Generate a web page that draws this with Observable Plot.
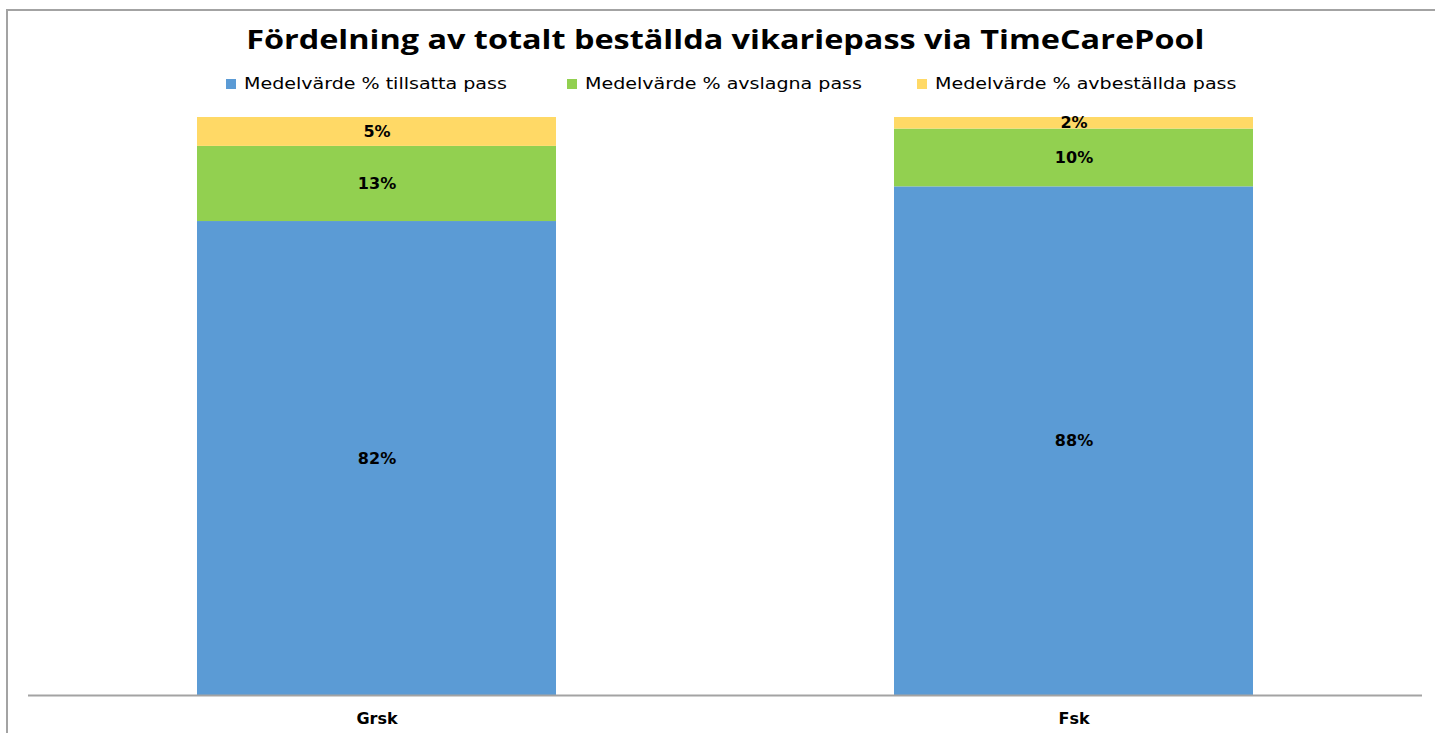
<!DOCTYPE html>
<html><head><meta charset="utf-8">
<script src="https://cdn.jsdelivr.net/npm/d3@7"></script>
<script src="https://cdn.jsdelivr.net/npm/@observablehq/plot@0.6"></script>
<style>
html,body{margin:0;padding:0;background:#fff;width:1435px;height:733px;overflow:hidden;position:relative;}
#frame{position:absolute;left:6px;top:9px;width:1500px;height:800px;border-left:2px solid #a3a3a3;border-top:2px solid #a3a3a3;box-sizing:border-box;}
#header{position:relative;height:100px;width:1435px;}
#title{position:absolute;left:8px;width:1435px;top:21px;text-align:center;font-family:"Open Sans",sans-serif;font-weight:700;font-size:27px;line-height:36px;color:#000;}
#title span{display:inline-block;transform:scaleX(1.2);transform-origin:center;white-space:nowrap;}
#legend{position:absolute;left:0;width:1435px;top:74px;height:20px;font-family:"DejaVu Sans",sans-serif;font-size:16px;line-height:20px;color:#000;}
.item{position:absolute;top:0;display:flex;align-items:center;height:20px;white-space:nowrap;}
.sw{width:10px;height:10px;margin-right:8px;}
.item span{display:inline-block;transform:scaleX(1.19);transform-origin:left center;}
#chart{position:relative;}
</style></head>
<body>
<div id="frame"></div>
<div id="header"><div id="title"></div><div id="legend"></div></div>
<div id="chart"></div>
<script>
const title = "Fördelning av totalt beställda vikariepass via TimeCarePool";
const categories = ["Grsk", "Fsk"];
const seriesNames = ["Medelvärde % tillsatta pass", "Medelvärde % avslagna pass", "Medelvärde % avbeställda pass"];
const colors = ["#5B9BD5", "#92D050", "#FFD966"];
const tillsatta = [0.82, 0.88];
const avslagna = [0.13, 0.10];
const avbestallda = [0.05, 0.02];
const seriesValues = [tillsatta, avslagna, avbestallda];
const legendLeft = [226, 567, 917];

const data = [];
seriesNames.forEach((s, si) => categories.forEach((c, ci) => data.push({cat: c, series: s, value: seriesValues[si][ci]})));

const tspan = document.createElement("span");
tspan.textContent = title;
document.getElementById("title").appendChild(tspan);
const legend = document.getElementById("legend");
seriesNames.forEach((s, i) => {
  const it = document.createElement("div"); it.className = "item"; it.style.left = legendLeft[i] + "px";
  const sw = document.createElement("div"); sw.className = "sw"; sw.style.background = colors[i];
  const tx = document.createElement("span"); tx.textContent = s;
  it.appendChild(sw); it.appendChild(tx); legend.appendChild(it);
});

const chart = Plot.plot({
  width: 1435,
  height: 633,
  marginTop: 17,
  marginBottom: 38,
  marginLeft: 28,
  marginRight: 13,
  style: {fontFamily: "DejaVu Sans, sans-serif", background: "transparent", overflow: "visible"},
  x: {domain: categories, paddingInner: 0.485, paddingOuter: 0.2425, label: null},
  y: {domain: [0, 1], axis: null},
  color: {domain: seriesNames, range: colors},
  marks: [
    Plot.barY(data, {x: "cat", y: "value", fill: "series", order: seriesNames}),
    Plot.text(data, Plot.stackY({x: "cat", y: "value", z: "series", order: seriesNames, text: d => Math.round(d.value * 100) + "%", fontWeight: "bold", fontSize: 16, fill: "#000"})),
    Plot.ruleY([0], {stroke: "#a3a3a3", strokeWidth: 2}),
    Plot.axisX({tickSize: 0, tickPadding: 17, fontSize: 16, fontWeight: "bold", label: null})
  ]
});
document.getElementById("chart").appendChild(chart);
</script>
</body></html>
